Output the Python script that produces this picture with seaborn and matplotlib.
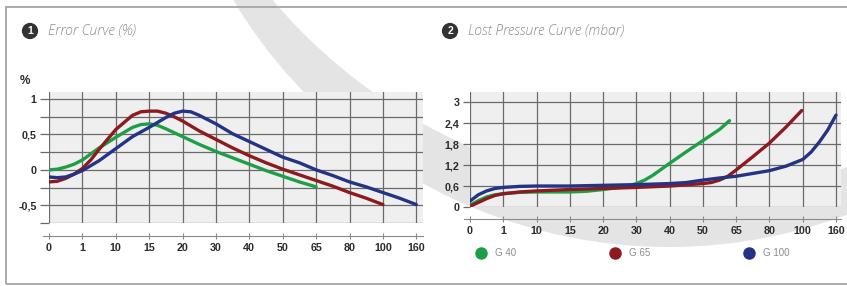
import pandas as pd
import matplotlib
matplotlib.use("Agg")
import matplotlib.pyplot as plt
import seaborn as sns
from matplotlib.lines import Line2D
from matplotlib.patches import Circle, Rectangle
from matplotlib.transforms import IdentityTransform

# flow categories on the x axis (evenly spaced, not to scale)
flow_labels = ["0", "1", "10", "15", "20", "30", "40", "50", "65", "80", "100", "160"]
models = ["G 40", "G 65", "G 100"]
colors = {"G 40": "#1f9e48", "G 65": "#8c1a1f", "G 100": "#243384"}

# 1 - error curve (%), x = position along the flow categories
err_g40_x = [0, 0.25, 0.5, 0.75, 1, 1.5, 2, 2.5, 2.75, 3, 3.25, 3.5, 4, 4.5, 5, 5.5, 6, 6.5, 7, 7.5, 8]
err_g40_y = [0.0, 0.01, 0.04, 0.08, 0.14, 0.31, 0.46, 0.6, 0.64, 0.65, 0.63, 0.58, 0.47, 0.36, 0.26,
             0.17, 0.08, -0.01, -0.09, -0.17, -0.24]
err_g65_x = [0, 0.25, 0.5, 0.75, 1, 1.25, 1.5, 2, 2.5, 2.75, 3, 3.25, 3.5, 3.75, 4, 4.5, 5, 5.5, 6,
             6.5, 7, 7.5, 8, 8.5, 9, 9.5, 10]
err_g65_y = [-0.17, -0.16, -0.12, -0.06, 0.02, 0.14, 0.29, 0.57, 0.77, 0.82, 0.83, 0.83, 0.8, 0.75,
             0.69, 0.55, 0.43, 0.31, 0.2, 0.1, 0.01, -0.07, -0.15, -0.23, -0.32, -0.4, -0.49]
err_g100_x = [0, 0.25, 0.5, 0.75, 1, 1.5, 2, 2.5, 3, 3.5, 3.75, 4, 4.25, 4.5, 4.75, 5, 5.5, 6, 6.5, 7,
              7.5, 8, 8.5, 9, 9.5, 10, 10.5, 11]
err_g100_y = [-0.1, -0.11, -0.1, -0.06, -0.01, 0.13, 0.3, 0.47, 0.6, 0.74, 0.8, 0.83, 0.82, 0.77, 0.71,
              0.65, 0.51, 0.4, 0.29, 0.18, 0.1, 0.0, -0.08, -0.17, -0.24, -0.32, -0.4, -0.49]

# 2 - lost pressure curve (mbar)
lp_g40_x = [0, 0.25, 0.5, 0.75, 1, 1.5, 2, 3, 3.5, 4, 4.5, 4.75, 5, 5.25, 5.5, 6, 6.5, 7, 7.5, 7.8]
lp_g40_y = [0.05, 0.18, 0.29, 0.35, 0.38, 0.42, 0.43, 0.43, 0.45, 0.5, 0.56, 0.6, 0.67, 0.77, 0.91,
            1.25, 1.58, 1.9, 2.22, 2.47]
lp_g65_x = [0, 0.25, 0.5, 0.75, 1, 1.5, 2, 3, 4, 5, 6, 7, 7.25, 7.5, 7.75, 8, 8.5, 9, 9.5, 9.97]
lp_g65_y = [0.02, 0.13, 0.24, 0.33, 0.38, 0.43, 0.46, 0.5, 0.53, 0.56, 0.6, 0.67, 0.7, 0.77, 0.88,
            1.06, 1.44, 1.83, 2.29, 2.76]
lp_g100_x = [0, 0.25, 0.5, 0.75, 1, 1.5, 2, 3, 4, 5, 6, 6.5, 7, 7.5, 8, 8.5, 9, 9.5, 10, 10.25, 10.5,
             10.75, 11]
lp_g100_y = [0.17, 0.35, 0.46, 0.53, 0.56, 0.59, 0.6, 0.6, 0.62, 0.64, 0.67, 0.7, 0.77, 0.83, 0.88,
             0.96, 1.04, 1.17, 1.36, 1.57, 1.86, 2.2, 2.63]

err_ticks = [-0.75, -0.5, -0.25, 0, 0.25, 0.5, 0.75, 1]
err_ticklabels = ["", "-0,5", "", "0", "", "0,5", "", "1"]
lp_ticks = [0, 0.6, 1.2, 1.8, 2.4, 3]
lp_ticklabels = ["0", "0,6", "1,2", "1,8", "2,4", "3"]


def long_frame(xs, ys):
    parts = [pd.DataFrame({"pos": x, "val": y, "model": m}) for x, y, m in zip(xs, ys, models)]
    return pd.concat(parts, ignore_index=True)


err_df = long_frame([err_g40_x, err_g65_x, err_g100_x], [err_g40_y, err_g65_y, err_g100_y])
lp_df = long_frame([lp_g40_x, lp_g65_x, lp_g100_x], [lp_g40_y, lp_g65_y, lp_g100_y])

sns.set_theme(style="ticks")
plt.rcParams["font.family"] = ["Liberation Sans", "DejaVu Sans"]

W, H = 847, 286
fig = plt.figure(figsize=(W / 100, H / 100), dpi=100)
fig.patch.set_facecolor("white")


def px_rect(x0, y0, x1, y1):
    # image pixel box (y down) -> figure fraction
    return [x0 / W, 1 - y1 / H, (x1 - x0) / W, (y1 - y0) / H]


ax1 = fig.add_axes(px_rect(49, 92, 423, 223))
ax2 = fig.add_axes(px_rect(470, 92, 841, 207))

grid_c = "#6a6a6a"
for ax, df, lim_x, lim_y, yt, ytl, tlen, off in [
    (ax1, err_df, (0, 11.2), (-0.75, 1.1), err_ticks, err_ticklabels, 6.5, 9.5),
    (ax2, lp_df, (0, 11.15), (0, 3.29), lp_ticks, lp_ticklabels, 5.0, 8.8),
]:
    ax.set_facecolor("#efefef")
    sns.lineplot(data=df, x="pos", y="val", hue="model", palette=colors, hue_order=models,
                 linewidth=2.4, legend=False, ax=ax, zorder=3, sort=False,
                 solid_joinstyle="round", solid_capstyle="round")
    ax.set_xlim(*lim_x)
    ax.set_ylim(*lim_y)
    ax.set_xticks(range(len(flow_labels)))
    ax.set_xticklabels(flow_labels)
    ax.set_yticks(yt)
    ax.set_yticklabels(ytl)
    ax.grid(True, color=grid_c, linewidth=0.9, zorder=1)
    ax.set_axisbelow(True)
    ax.set_xlabel("")
    ax.set_ylabel("")
    for s in ["top", "right", "left"]:
        ax.spines[s].set_visible(False)
    ax.spines["bottom"].set_position(("outward", off))
    ax.spines["bottom"].set_color("#8a8a8a")
    ax.spines["bottom"].set_linewidth(0.8)
    ax.spines["bottom"].set_bounds(-0.18, lim_x[1])
    ax.tick_params(axis="x", direction="inout", length=5, width=0.8, color="#8a8a8a",
                   pad=2.5, labelsize=7.7, labelcolor="#2b2b2b")
    ax.tick_params(axis="y", direction="out", length=tlen, width=0.9, color=grid_c,
                   pad=2.5, labelsize=7.7, labelcolor="#2b2b2b")
    for lab in ax.get_xticklabels() + ax.get_yticklabels():
        lab.set_fontweight("bold")

ax1.set_ylabel("%", rotation=0, fontsize=8.5, fontweight="bold", color="#2b2b2b")
ax1.yaxis.set_label_coords(-0.065, 1.035)

# panel titles with numbered badges
for x_px, num, title in [(30, "1", "Error Curve (%)"), (450, "2", "Lost Pressure Curve (mbar)")]:
    fig.text(x_px / W, 1 - 31 / H, num, ha="center", va="center", color="white",
             fontsize=7.5, fontweight="bold",
             bbox=dict(boxstyle="circle,pad=0.3", fc="#333333", ec="none"))
    fig.text((x_px + 18) / W, 1 - 31 / H, title, ha="left", va="center", color="#8c8c8c",
             fontsize=10, family=["Open Sans", "DejaVu Sans"], style="italic", fontweight="light")

# legend under the right chart
handles = [Line2D([], [], marker="o", linestyle="", markersize=8, color=colors[m]) for m in models]
leg = fig.legend(handles, models, loc="center left", bbox_to_anchor=(476 / W, 1 - 253 / H),
                 ncol=3, frameon=False, handlelength=1.0, handletextpad=1.0, columnspacing=9.6,
                 borderpad=0, borderaxespad=0, fontsize=7)
for t in leg.get_texts():
    t.set_color("#8a8a8a")

# background swoosh and frame
fig.add_artist(Circle((669, H + 261), 508, transform=IdentityTransform(), fc="#e4e4e4", ec="none", zorder=-2))
fig.add_artist(Circle((686, H + 349), 541, transform=IdentityTransform(), fc="white", ec="none", zorder=-1))
fig.add_artist(Rectangle((6, 2), 900, 277, transform=IdentityTransform(), fill=False,
                         ec="#a5a5a5", lw=1.3, zorder=5))

fig.savefig("out.png", dpi=100)
